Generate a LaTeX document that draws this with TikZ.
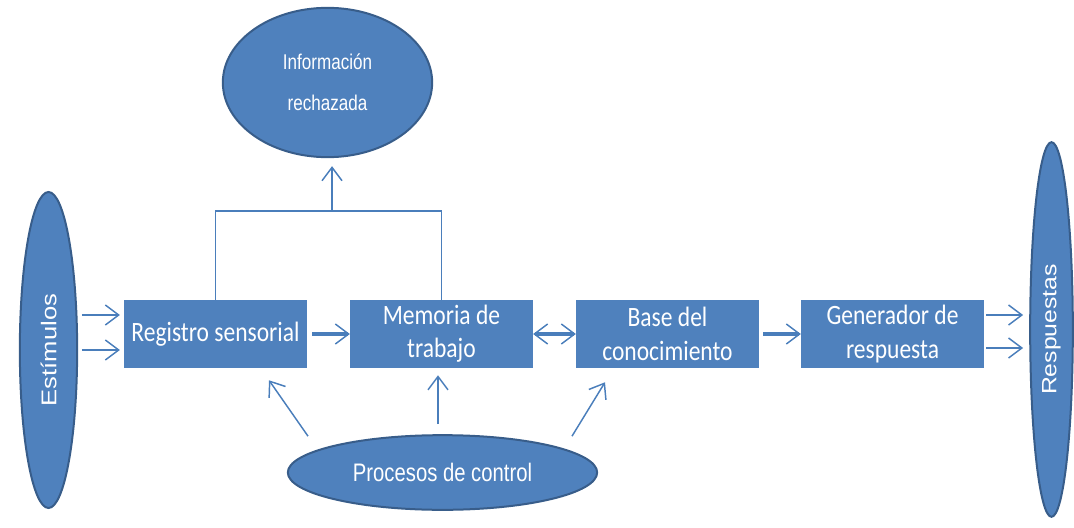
\documentclass[tikz,border=0pt]{standalone}
\usepackage{fontspec}
\setmainfont{Carlito}
\newfontfamily\boxfont[FakeStretch=0.84]{Carlito}
\newfontfamily\narrowsf[FakeStretch=0.8]{Liberation Sans}
\newfontfamily\widesf[FakeStretch=1.2]{Liberation Sans}
\usetikzlibrary{shapes.geometric,arrows.meta,calc}
\definecolor{boxblue}{HTML}{4F81BD}
\definecolor{rimblue}{HTML}{385D8A}
\definecolor{lineblue}{HTML}{4A7EBB}
\tikzset{
  stage/.style={rectangle, fill=boxblue, text=white, minimum width=137pt,
    minimum height=51pt, inner sep=0pt, align=center,
    font=\boxfont\fontsize{21}{25}\selectfont},
  blob/.style={ellipse, fill=boxblue, draw=rimblue, line width=1.5pt,
    text=white, inner sep=0pt, align=center},
  barb/.tip={Straight Barb[line width=1.1pt, length=10pt, width=15pt]},
  link/.style={draw=lineblue, line width=1.1pt},
  flow/.style={link, -barb},
  bigflow/.style={link, line width=3pt, -barb}
}
\begin{document}
\begin{tikzpicture}[x=0.75pt,y=-0.75pt]
\useasboundingbox (0,0) rectangle (1074,528);

\node[stage] (registro) at (215.5,334) {Registro sensorial};
\node[stage] (memoria) at (441.5,334) {Memoria de\\trabajo};
\node[stage] (base) at (667.5,334) {Base del\\conocimiento};
\node[stage] (generador) at (892.5,334) {Generador de\\respuesta};

\node[blob, rotate=90, minimum width=237pt, minimum height=43pt,
  font=\widesf\fontsize{16}{19}\selectfont] (estimulos) at (48.5,350) {Estímulos};
\node[blob, rotate=90, minimum width=281pt, minimum height=32pt,
  font=\widesf\fontsize{15.5}{19}\selectfont] (respuestas) at (1051.5,329.5) {Respuestas};
\node[blob, minimum width=157pt, minimum height=112pt,
  font=\narrowsf\fontsize{16}{31}\selectfont] (rechazada) at (327.5,82.5) {Información\\rechazada};
\node[blob, minimum width=232pt, minimum height=56pt,
  font=\narrowsf\fontsize{19}{23}\selectfont] (control) at (442.5,472.5) {Procesos de control};

% entradas y salidas
\foreach \dy in {-19,16} {
  \draw[flow] ($(registro.west)+(-42,\dy)$) -- ($(registro.west)+(-4,\dy)$);
}
\foreach \dy in {-19,14} {
  \draw[flow] ($(generador.east)+(2,\dy)$) -- ($(generador.east)+(39,\dy)$);
}

% flujo principal
\draw[bigflow, shorten <=4pt] (registro.east) -- (memoria.west);
\draw[bigflow, barb-barb] (memoria.east) -- (base.west);
\draw[bigflow, shorten <=3pt] (base.east) -- (generador.west);

% informacion rechazada
\coordinate (split) at (332,211);
\draw[link] (registro.north) |- (split) -| (memoria.north);
\draw[flow, shorten >=6pt] (split) -- (split |- rechazada.south);

% procesos de control
\draw[flow] ($(control.north)+(-134.5,2)$) -- ($(registro.south)+(53.5,12)$);
\draw[flow] ($(control.north)+(-4.5,-10)$) -- ($(memoria.south)+(-3.5,7)$);
\draw[flow] ($(control.north)+(129.5,2)$) -- ($(base.south)+(-62.5,14)$);
\end{tikzpicture}
\end{document}
